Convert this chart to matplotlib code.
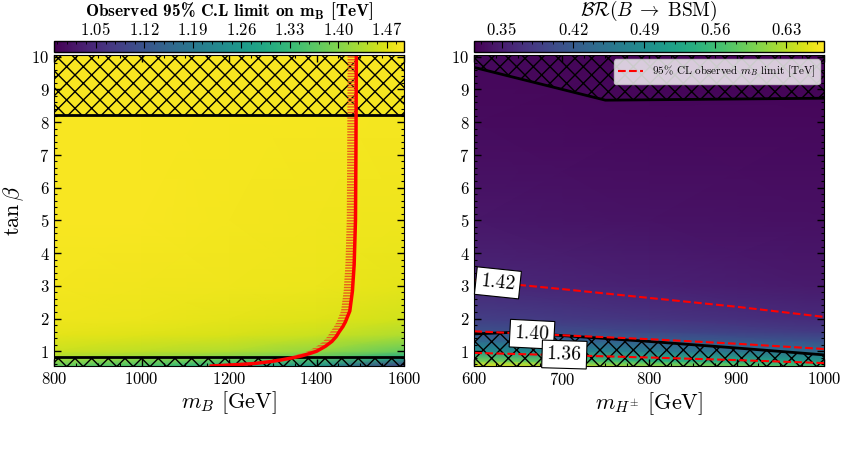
#!/usr/bin/env python

import numpy as np
import matplotlib
matplotlib.use("Agg")
import matplotlib.pyplot as plt
import matplotlib.ticker as ticker

# Left panel: observed limit on m_B [TeV] over (m_B, tan beta)
left_mb = [800, 1000, 1200, 1400, 1600]
left_tanb = [0.55, 0.8, 1.0, 1.5, 2.0, 3.0, 5.0, 10.05]
left_limit = [
    [1.369, 1.344, 1.303, 1.243, 1.081],
    [1.429, 1.414, 1.394, 1.364, 1.293],
    [1.455, 1.445, 1.434, 1.414, 1.374],
    [1.475, 1.470, 1.465, 1.455, 1.434],
    [1.482, 1.480, 1.475, 1.470, 1.460],
    [1.487, 1.485, 1.482, 1.480, 1.475],
    [1.490, 1.490, 1.487, 1.485, 1.482],
    [1.490, 1.490, 1.490, 1.490, 1.490],
]
left_cbar_ticks = [1.05, 1.12, 1.19, 1.26, 1.33, 1.40, 1.47]

# red exclusion curve (m_B = limit)
curve_tanb = [0.55, 0.59, 0.625, 0.68, 0.73, 0.8, 0.86, 0.93, 1.0, 1.15, 1.3, 1.45,
              1.6, 1.75, 1.9, 2.23, 2.84, 3.65, 5.0, 7.0, 10.05]
curve_mb = [1159, 1215, 1257, 1292, 1317, 1345, 1366, 1384, 1400, 1420, 1435, 1445,
            1452, 1460, 1466, 1476, 1482, 1486, 1489, 1490, 1491]

# hatched (excluded) tan beta bands in left panel
left_upper_bound = 8.22
left_lower_bound = 0.81

# Right panel: BR(B -> BSM) over (m_H+, tan beta)
right_mh = [600, 800, 1000]
right_tanb = [0.55, 0.7, 1.0, 1.3, 1.6, 2.0, 3.0, 5.0, 8.0, 10.05]
right_br = [
    [0.657, 0.615, 0.564],
    [0.598, 0.547, 0.512],
    [0.495, 0.467, 0.443],
    [0.443, 0.426, 0.409],
    [0.409, 0.395, 0.381],
    [0.385, 0.375, 0.364],
    [0.361, 0.354, 0.347],
    [0.344, 0.340, 0.337],
    [0.333, 0.330, 0.330],
    [0.330, 0.326, 0.323],
]
right_cbar_ticks = [0.35, 0.42, 0.49, 0.56, 0.63]

# m_B limit contours in right panel
contour_mh = [600, 700, 800, 900, 1000]
contour_levels = ["1.42", "1.40", "1.36"]
contour_tanb = {
    "1.42": [3.16, 2.90, 2.63, 2.36, 2.05],
    "1.40": [1.61, 1.49, 1.37, 1.23, 1.07],
    "1.36": [0.95, 0.88, 0.81, 0.73, 0.64],
}
label_pos = {"1.42": (627, 3.09), "1.40": (666, 1.52), "1.36": (703, 0.90)}

# excluded regions in right panel
upper_mh = [600, 750, 1000]
upper_tanb = [9.67, 8.67, 8.73]
lower_mh = [600, 646, 689, 800, 900, 1000]
lower_tanb = [1.53, 1.58, 1.50, 1.30, 1.10, 0.89]

plt.rcParams["font.family"] = ["cmr10", "DejaVu Serif"]
plt.rcParams["mathtext.fontset"] = "cm"
plt.rcParams["axes.formatter.use_mathtext"] = True
plt.rcParams["axes.unicode_minus"] = False
plt.rcParams["hatch.linewidth"] = 1.0

W, H = 847, 449
YLIM = (0.55, 10.05)


def style_axis(ax):
    ax.tick_params(which="both", direction="in", top=True, right=True, labelsize=12)
    ax.tick_params(which="major", length=5, width=1)
    ax.tick_params(which="minor", length=2.5, width=0.8)
    ax.yaxis.set_major_locator(ticker.MultipleLocator(1))
    ax.yaxis.set_minor_locator(ticker.MultipleLocator(0.2))
    ax.set_ylim(*YLIM)


def add_cbar(fig, ax_rect, mappable, ticks, minor):
    x0, w = ax_rect
    cax = fig.add_axes([x0 / W, 1 - 52 / H, w / W, 11 / H])
    cb = fig.colorbar(mappable, cax=cax, orientation="horizontal")
    cb.set_ticks(ticks)
    cax.xaxis.set_ticks_position("top")
    cax.xaxis.set_label_position("top")
    cax.xaxis.set_minor_locator(ticker.MultipleLocator(minor))
    cax.tick_params(which="both", direction="in", labelsize=12, pad=2)
    cax.tick_params(which="major", length=5)
    cax.tick_params(which="minor", length=2.5)
    cb.outline.set_linewidth(1)
    return cax


fig = plt.figure(figsize=(W / 100, H / 100), dpi=100)
ax1 = fig.add_axes([54.3 / W, 1 - 366 / H, 349.7 / W, 311 / H])
ax2 = fig.add_axes([474.3 / W, 1 - 366 / H, 349.7 / W, 311 / H])

# ---- left panel
mesh1 = ax1.pcolormesh(left_mb, left_tanb, np.array(left_limit), shading="gouraud",
                       cmap="viridis", vmin=0.99, vmax=1.495)
ax1.fill_between([800, 1600], left_upper_bound, YLIM[1], facecolor="none",
                 edgecolor="k", hatch="xx", lw=0)
ax1.fill_between([800, 1600], YLIM[0], left_lower_bound, facecolor="none",
                 edgecolor="k", hatch="xx", lw=0)
ax1.axhline(left_upper_bound, color="k", lw=2)
ax1.axhline(left_lower_bound, color="k", lw=2)
cmb = np.array(curve_mb)
ax1.fill_betweenx(curve_tanb, cmb - 20, cmb, facecolor="none", edgecolor="#e8601c",
                  hatch="------", lw=0)
ax1.plot(curve_mb, curve_tanb, color="red", lw=2.5)
ax1.set_xlim(800, 1600)
ax1.xaxis.set_major_locator(ticker.MultipleLocator(200))
ax1.xaxis.set_minor_locator(ticker.MultipleLocator(50))
style_axis(ax1)
ax1.set_xlabel(r"$m_B$ [GeV]", fontsize=16, labelpad=2)
ax1.set_ylabel(r"$\tan\beta$", fontsize=16)

cax1 = add_cbar(fig, (54.3, 349.7), mesh1, left_cbar_ticks, 0.014)
cax1.set_xlabel(r"Observed 95% C.L limit on $\mathbf{m_B}$ [TeV]", fontsize=12.5,
                family=["cmb10", "DejaVu Serif"], labelpad=4)

# ---- right panel
mesh2 = ax2.pcolormesh(right_mh, right_tanb, np.array(right_br), shading="gouraud",
                       cmap="viridis", vmin=0.323, vmax=0.667)
ax2.fill_between(upper_mh, upper_tanb, YLIM[1], facecolor="none", edgecolor="k",
                 hatch="xx", lw=0)
ax2.plot(upper_mh, upper_tanb, color="k", lw=2)
ax2.fill_between(lower_mh, YLIM[0], lower_tanb, facecolor="none", edgecolor="k",
                 hatch="xx", lw=0)
ax2.plot(lower_mh, lower_tanb, color="k", lw=2)

for i, lvl in enumerate(contour_levels):
    ax2.plot(contour_mh, contour_tanb[lvl], color="red", ls="--", lw=1.5,
             label=r"95% CL observed $m_B$ limit [TeV]" if i == 0 else None)

ax2.set_xlim(600, 1000)
ax2.xaxis.set_major_locator(ticker.MultipleLocator(100))
ax2.xaxis.set_minor_locator(ticker.MultipleLocator(25))
style_axis(ax2)
ax2.set_xlabel(r"$m_{H^{\pm}}$ [GeV]", fontsize=16, labelpad=2)

# inline contour labels rotated along the lines
fig.canvas.draw()
for lvl in contour_levels:
    ys = contour_tanb[lvl]
    p0 = ax2.transData.transform((contour_mh[0], ys[0]))
    p1 = ax2.transData.transform((contour_mh[-1], ys[-1]))
    ang = np.degrees(np.arctan2(p1[1] - p0[1], p1[0] - p0[0]))
    x, y = label_pos[lvl]
    ax2.text(x, y, lvl, fontsize=14, ha="center", va="center", rotation=ang,
             rotation_mode="anchor",
             bbox=dict(boxstyle="square,pad=0.25", facecolor="white",
                       edgecolor="black", lw=0.8))

leg = ax2.legend(loc="upper right", fontsize=8, framealpha=0.8, handlelength=2.2,
                 borderaxespad=0.4)

cax2 = add_cbar(fig, (474.3, 349.7), mesh2, right_cbar_ticks, 0.01)
cax2.set_xlabel(r"$\mathcal{BR}(B\;\rightarrow\;\mathrm{BSM})$", fontsize=14,
                labelpad=4)

fig.savefig("out.png", dpi=100)
